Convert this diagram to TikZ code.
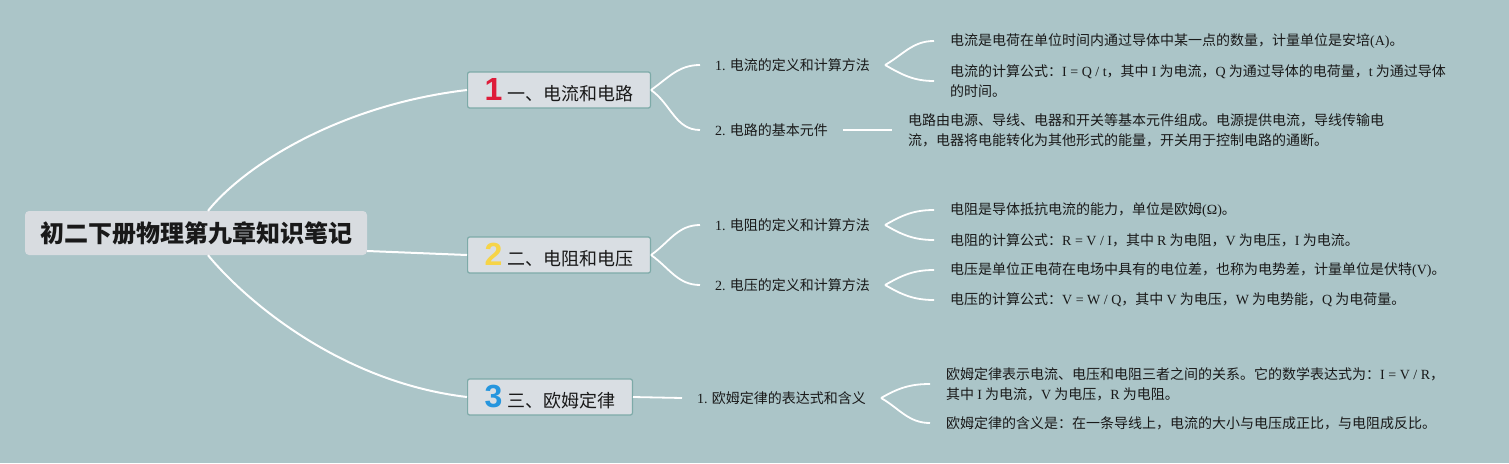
\documentclass[tikz,border=0pt]{standalone}
\usepackage{fontspec}
\setmainfont{Noto Sans CJK SC}
\newfontfamily\latfont{Liberation Serif}
\newfontfamily\numfont{Liberation Sans}
\newcommand\eq[1]{{\latfont #1}}
\newcommand\topicnum[2]{{\numfont\bfseries\fontsize{32}{32}\selectfont\color{#1}#2}\hspace{5pt}}

\definecolor{bg_teal}{RGB}{171,197,200}
\definecolor{root_grey}{RGB}{216,220,224}
\definecolor{topic_grey}{RGB}{217,222,227}
\definecolor{topic_border}{RGB}{125,170,168}
\definecolor{ink}{RGB}{25,25,25}
\definecolor{num_red}{RGB}{222,28,58}
\definecolor{num_yellow}{RGB}{246,212,72}
\definecolor{num_blue}{RGB}{38,150,222}

\begin{document}
\begin{tikzpicture}[
    x=1pt, y=1pt,
% Block styles
    root/.style={rectangle, fill=root_grey, rounded corners=4pt, minimum width=342pt, minimum height=44pt, inner sep=0pt, text=ink, font=\fontsize{24}{26}\selectfont\bfseries},
    topic/.style={rectangle, draw=topic_border, fill=topic_grey, line width=1.2pt, rounded corners=2pt, anchor=west, minimum height=36pt, inner ysep=0pt, inner xsep=17pt, text=ink, font=\fontsize{18}{20}\selectfont},
    sub/.style={anchor=west, inner xsep=15pt, inner ysep=2pt, text=ink, font=\fontsize{14}{20}\selectfont},
    leaf/.style={anchor=west, inner xsep=16pt, inner ysep=2pt, align=left, text=ink, font=\fontsize{14}{20}\selectfont},
    link/.style={draw=white, line width=1.8pt}
]

% Background
\useasboundingbox (0,0) rectangle (1509,-463);
\fill[bg_teal] (0,0) rectangle (1509,-463);

% 1. Central topic
\node[root] (root) at (196,-233) {初二下册物理第九章知识笔记};

% 2. Main topics
\node[topic] (b1) at (467,-90) {\topicnum{num_red}{1}一、电流和电路};
\node[topic] (b2) at (467,-255) {\topicnum{num_yellow}{2}二、电阻和电压};
\node[topic] (b3) at (467,-397) {\topicnum{num_blue}{3}三、欧姆定律};

% 3. Subtopics
\node[sub] (b11) at (700,-65) {\eq{1.} 电流的定义和计算方法};
\node[sub] (b12) at (700,-130) {\eq{2.} 电路的基本元件};
\node[sub] (b21) at (700,-225) {\eq{1.} 电阻的定义和计算方法};
\node[sub] (b22) at (700,-285) {\eq{2.} 电压的定义和计算方法};
\node[sub] (b31) at (682,-398) {\eq{1.} 欧姆定律的表达式和含义};

% 4. Details
\node[leaf] (l111) at (934,-41) {电流是电荷在单位时间内通过导体中某一点的数量，计量单位是安培\eq{(A)}。};
\node[leaf] (l112) at (934,-81) {电流的计算公式：\eq{I = Q / t}，其中 \eq{I} 为电流，\eq{Q} 为通过导体的电荷量，\eq{t} 为通过导体\\的时间。};
\node[leaf] (l121) at (892,-130) {电路由电源、导线、电器和开关等基本元件组成。电源提供电流，导线传输电\\流，电器将电能转化为其他形式的能量，开关用于控制电路的通断。};
\node[leaf] (l211) at (934,-210) {电阻是导体抵抗电流的能力，单位是欧姆\eq{(Ω)}。};
\node[leaf] (l212) at (934,-240) {电阻的计算公式：\eq{R = V / I}，其中 \eq{R} 为电阻，\eq{V} 为电压，\eq{I} 为电流。};
\node[leaf] (l221) at (934,-270) {电压是单位正电荷在电场中具有的电位差，也称为电势差，计量单位是伏特\eq{(V)}。};
\node[leaf] (l222) at (934,-300) {电压的计算公式：\eq{V = W / Q}，其中 \eq{V} 为电压，\eq{W} 为电势能，\eq{Q} 为电荷量。};
\node[leaf] (l311) at (930,-384) {欧姆定律表示电流、电压和电阻三者之间的关系。它的数学表达式为：\eq{I = V / R}，\\其中 \eq{I} 为电流，\eq{V} 为电压，\eq{R} 为电阻。};
\node[leaf] (l312) at (930,-423) {欧姆定律的含义是：在一条导线上，电流的大小与电压成正比，与电阻成反比。};

% Links central topic -> main topics
\draw[link, line width=2pt] ([xshift=12pt]root.north) .. controls (245,-165) and (340,-105) .. (b1.west);
\draw[link, line width=2pt] ([yshift=-18pt]root.east) -- (b2.west);
\draw[link, line width=2pt] ([xshift=12pt]root.south) .. controls (245,-300) and (340,-382) .. (b3.west);

% Links main topics -> subtopics
\draw[link] (b1.east) to[out=35, in=180] (b11.west);
\draw[link] (b1.east) to[out=-35, in=180] (b12.west);
\draw[link] (b2.east) to[out=35, in=180] (b21.west);
\draw[link] (b2.east) to[out=-35, in=180] (b22.west);
\draw[link] (b3.east) -- (b31.west);

% Links subtopics -> details
\draw[link] (b11.east) to[out=30, in=180] (l111.west);
\draw[link] (b11.east) to[out=-30, in=180] (l112.west);
\draw[link] (b12.east) -- (l121.west);
\draw[link] (b21.east) to[out=30, in=180] (l211.west);
\draw[link] (b21.east) to[out=-30, in=180] (l212.west);
\draw[link] (b22.east) to[out=30, in=180] (l221.west);
\draw[link] (b22.east) to[out=-30, in=180] (l222.west);
\draw[link] (b31.east) to[out=30, in=180] (l311.west);
\draw[link] (b31.east) to[out=-30, in=180] (l312.west);

\end{tikzpicture}
\end{document}
